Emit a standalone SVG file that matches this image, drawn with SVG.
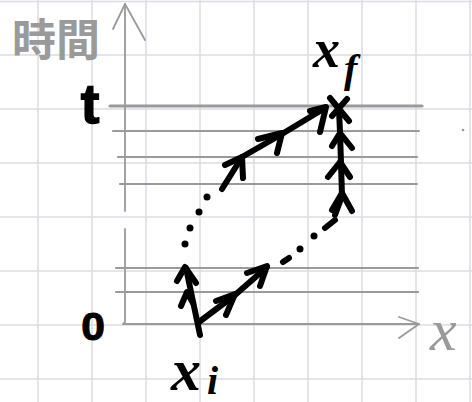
<svg xmlns="http://www.w3.org/2000/svg" width="472" height="402" viewBox="0 0 472 402">
  <style>
    .grid { stroke: #dcdce4; stroke-width: 1.5; fill: none; }
    .axis { stroke: #9a9a9a; stroke-width: 1.8; fill: none; stroke-linecap: round; stroke-linejoin: round; }
    .lvl { stroke: #9a9a9a; stroke-width: 2.2; fill: none; stroke-linecap: round; }
    .ink { stroke: #000; stroke-width: 6; fill: none; stroke-linecap: round; stroke-linejoin: round; }
    .dot { fill: #000; }
    .lblk { fill: #000; }
    .lgray { fill: #9a9a9a; }
    .math { font-family: "Liberation Serif", serif; font-style: italic; }
    .sans { font-family: "Liberation Sans", sans-serif; font-weight: bold; }
  </style>
  <rect width="472" height="402" fill="#ffffff"/>
  <g id="grid" class="grid">
    <path d="M38,0V402M92,0V402M146,0V402M200,0V402M254,0V402M308,0V402M362,0V402M416,0V402M470,0V402"/>
    <path d="M0,1.5H472M0,55H472M0,109H472M0,163H472M0,217H472M0,271H472M0,325H472M0,379H472"/>
  </g>
  <g id="axes" class="axis">
    <path d="M125,4V211M125,229V322L123,324H419"/>
    <path d="M113,29L125,4L145,40"/>
    <path d="M399,317L419,324L399,338"/>
  </g>
  <g id="levels" class="lvl">
    <path d="M110,106H422" stroke-width="3.2"/>
    <path d="M113,131H419M118,157H417M120,184H417"/>
    <path d="M116,268H418M116,292H418"/>
    <circle cx="463" cy="130" r="1.3" fill="#9a9a9a" stroke="none"/>
  </g>
  <g id="label-time">
    <text class="lgray" x="12" y="56" font-family="'Noto Sans CJK JP', 'Noto Sans CJK SC', sans-serif" font-weight="bold" font-size="44">時間</text>
  </g>
  <g id="label-t"><text class="lblk sans" x="90" y="123" font-size="56" text-anchor="middle" stroke="#000" stroke-width="1.5">t</text></g>
  <g id="label-0"><text class="lblk sans" x="0" y="0" font-size="38" text-anchor="middle" stroke="#000" stroke-width="1" transform="translate(93,340) scale(1.12,1)">0</text></g>
  <g id="label-xi">
    <text class="lblk math" font-weight="bold" x="171" y="390" font-size="60">x</text>
    <text class="lblk math" font-weight="bold" x="207" y="394" font-size="40">i</text>
  </g>
  <g id="label-xf">
    <text class="lblk math" font-weight="bold" x="313" y="67" font-size="54">x</text>
    <text class="lblk math" font-weight="bold" x="344" y="82" font-size="40">f</text>
  </g>
  <g id="label-x"><text class="lgray math" x="430" y="350" font-size="60">x</text></g>
  <g id="connectors">
    <g id="path-left">
      <path class="ink" d="M200,335L186,268"/>
      <path class="ink" d="M177,281L185,267L196,283"/>
      <path class="ink" d="M181,306L187,292L193,303"/>
      <circle class="dot" cx="185" cy="244" r="3.5"/>
      <circle class="dot" cx="190" cy="228" r="3.5"/>
      <circle class="dot" cx="199" cy="212" r="3.5"/>
      <circle class="dot" cx="207" cy="197" r="3.5"/>
      <path class="ink" d="M222,189L242,157L282,134L325,108"/>
      <path class="ink" d="M225,165L242,157L243,178"/>
      <path class="ink" d="M258,139L282,133L277,153"/>
      <path class="ink" d="M310,111L326,107L320,132"/>
    </g>
    <g id="path-right">
      <path class="ink" d="M199,322L235,295L267,267"/>
      <path class="ink" d="M216,301L235,294L226,315"/>
      <path class="ink" d="M247,273L267,266L260,286"/>
      <path class="ink" d="M283,262L289,258"/>
      <circle class="dot" cx="300" cy="249" r="3.5"/>
      <circle class="dot" cx="314" cy="236" r="3.5"/>
      <path class="ink" d="M325,228L335,220"/>
      <path class="ink" d="M335,215L342,196L341,163L340,132L339,110"/>
      <path class="ink" d="M332,210L342,193L352,211"/>
      <path class="ink" d="M328,177L340,162L350,177"/>
      <path class="ink" d="M332,146L340,133L352,148"/>
      <path class="ink" d="M330,98L349,121M347,99L332,116"/>
    </g>
  </g>
</svg>
